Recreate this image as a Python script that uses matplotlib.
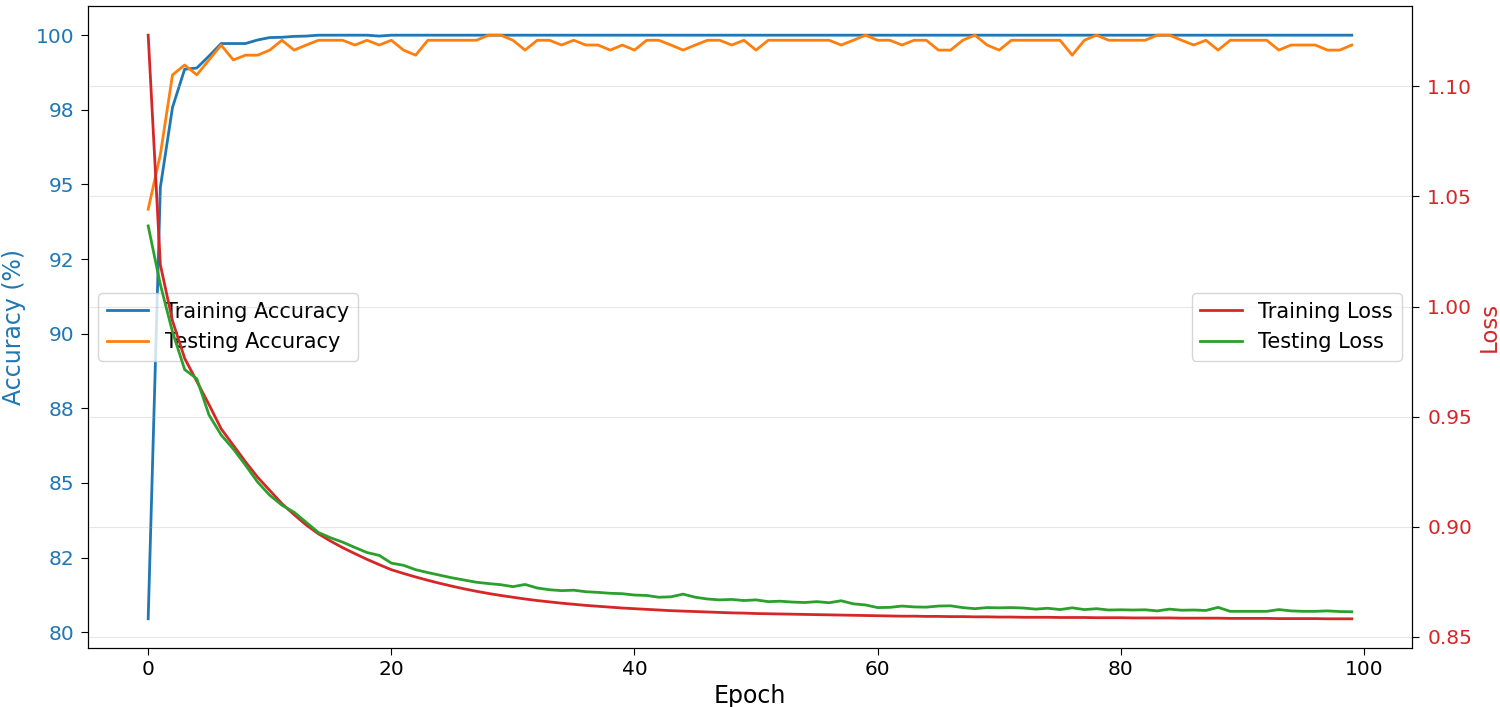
import matplotlib
matplotlib.use("Agg")
import matplotlib.pyplot as plt
from matplotlib.ticker import StrMethodFormatter

# per-epoch values
train_acc = [
    80.45, 94.9, 97.58, 98.86, 98.9, 99.3, 99.72, 99.72, 99.72, 99.84,
    99.92, 99.93, 99.96, 99.97, 100, 100, 100, 100, 100, 99.97,
    100, 100, 100, 100, 100, 100, 100, 100, 100, 100,
    100, 100, 100, 100, 100, 100, 100, 100, 100, 100,
    100, 100, 100, 100, 100, 100, 100, 100, 100, 100,
    100, 100, 100, 100, 100, 100, 100, 100, 100, 100,
    100, 100, 100, 100, 100, 100, 100, 100, 100, 100,
    100, 100, 100, 100, 100, 100, 100, 100, 100, 100,
    100, 100, 100, 100, 100, 100, 100, 100, 100, 100,
    100, 100, 100, 100, 100, 100, 100, 100, 100, 100,
]
test_acc = [
    94.17, 96.0, 98.67, 99.0, 98.67, 99.17, 99.67, 99.17, 99.33, 99.33,
    99.5, 99.83, 99.5, 99.67, 99.83, 99.83, 99.83, 99.67, 99.83, 99.67,
    99.83, 99.5, 99.33, 99.83, 99.83, 99.83, 99.83, 99.83, 100, 100,
    99.83, 99.5, 99.83, 99.83, 99.67, 99.83, 99.67, 99.67, 99.5, 99.67,
    99.5, 99.83, 99.83, 99.67, 99.5, 99.67, 99.83, 99.83, 99.67, 99.83,
    99.5, 99.83, 99.83, 99.83, 99.83, 99.83, 99.83, 99.67, 99.83, 100,
    99.83, 99.83, 99.67, 99.83, 99.83, 99.5, 99.5, 99.83, 100, 99.67,
    99.5, 99.83, 99.83, 99.83, 99.83, 99.83, 99.33, 99.83, 100, 99.83,
    99.83, 99.83, 99.83, 100, 100, 99.83, 99.67, 99.83, 99.5, 99.83,
    99.83, 99.83, 99.83, 99.5, 99.67, 99.67, 99.67, 99.5, 99.5, 99.67,
]
train_loss = [
    1.1232, 1.0190, 0.9935, 0.9765, 0.9660, 0.9555, 0.9445, 0.9370, 0.9295, 0.9225,
    0.9165, 0.9105, 0.9055, 0.9008, 0.8968, 0.8935, 0.8905, 0.8878, 0.8852, 0.8828,
    0.8805, 0.8788, 0.8772, 0.8757, 0.8743, 0.8730, 0.8718, 0.8707, 0.8697, 0.8688,
    0.8680, 0.8672, 0.8665, 0.8659, 0.8653, 0.8648, 0.8643, 0.8639, 0.8635, 0.8631,
    0.8628, 0.8625, 0.8622, 0.8619, 0.8617, 0.8615, 0.8613, 0.8611, 0.8609, 0.8608,
    0.8606, 0.8605, 0.8604, 0.8603, 0.8602, 0.8601, 0.8600, 0.8599, 0.8598, 0.8597,
    0.8596, 0.8595, 0.8594, 0.8594, 0.8593, 0.8593, 0.8592, 0.8592, 0.8591, 0.8591,
    0.8590, 0.8590, 0.8589, 0.8589, 0.8589, 0.8588, 0.8588, 0.8588, 0.8587, 0.8587,
    0.8587, 0.8586, 0.8586, 0.8586, 0.8586, 0.8585, 0.8585, 0.8585, 0.8585, 0.8584,
    0.8584, 0.8584, 0.8584, 0.8583, 0.8583, 0.8583, 0.8583, 0.8582, 0.8582, 0.8582,
]
test_loss = [
    1.0366, 1.0100, 0.9885, 0.9714, 0.9672, 0.9508, 0.9417, 0.9353, 0.9280, 0.9203,
    0.9143, 0.9098, 0.9066, 0.9020, 0.8974, 0.8950, 0.8930, 0.8906, 0.8883, 0.8870,
    0.8835, 0.8825, 0.8805, 0.8792, 0.8780, 0.8768, 0.8758, 0.8748, 0.8742, 0.8737,
    0.8728, 0.8738, 0.8722, 0.8714, 0.8710, 0.8712, 0.8705, 0.8702, 0.8698, 0.8696,
    0.8690, 0.8688, 0.8680, 0.8682, 0.8694, 0.8680, 0.8672, 0.8668, 0.8670, 0.8665,
    0.8668, 0.8660, 0.8662, 0.8658, 0.8656, 0.8660, 0.8655, 0.8664, 0.8650, 0.8645,
    0.8633, 0.8634, 0.8640, 0.8636, 0.8635, 0.8640, 0.8641, 0.8633, 0.8628, 0.8633,
    0.8632, 0.8633, 0.8631, 0.8626, 0.8630, 0.8624, 0.8632, 0.8624, 0.8628, 0.8622,
    0.8623, 0.8622, 0.8623, 0.8618, 0.8626, 0.8621, 0.8622, 0.8620, 0.8634, 0.8616,
    0.8616, 0.8616, 0.8616, 0.8624, 0.8618, 0.8616, 0.8616, 0.8618, 0.8615, 0.8614,
]
epochs = list(range(len(train_acc)))
acc_ticks = [80, 82.5, 85, 87.5, 90, 92.5, 95, 97.5, 100]

fig = plt.figure(figsize=(15, 7.07), dpi=100)
ax1 = fig.add_axes([88 / 1500, 59 / 707, 1324 / 1500, 642 / 707])

# accuracy on the left axis
ax1.plot(epochs, train_acc, color="tab:blue", lw=2, label="Training Accuracy")
ax1.plot(epochs, test_acc, color="tab:orange", lw=2, label="Testing Accuracy")
ax1.set_xlabel("Epoch", fontsize=17, labelpad=4)
ax1.set_ylabel("Accuracy (%)", color="tab:blue", fontsize=17, labelpad=7)
ax1.set_yticks(acc_ticks)
ax1.yaxis.set_major_formatter(StrMethodFormatter("{x:.0f}"))
ax1.tick_params(axis="y", labelcolor="tab:blue", labelsize=14.5, length=5, pad=5)
ax1.tick_params(axis="x", labelsize=14.5, length=5)
ax1.set_xticks([0, 20, 40, 60, 80, 100])
ax1.legend(loc="center left", fontsize=15)

# loss on the right axis
ax2 = ax1.twinx()
ax2.plot(epochs, train_loss, color="tab:red", lw=2, label="Training Loss")
ax2.plot(epochs, test_loss, color="tab:green", lw=2, label="Testing Loss")
ax2.set_ylabel("Loss", color="tab:red", fontsize=16.5, labelpad=4)
ax2.tick_params(axis="y", labelcolor="tab:red", labelsize=14.5, length=5, pad=6)
ax2.legend(loc="center right", fontsize=15)
ax2.grid(True, alpha=0.3)

fig.savefig("out.png", dpi=100)
